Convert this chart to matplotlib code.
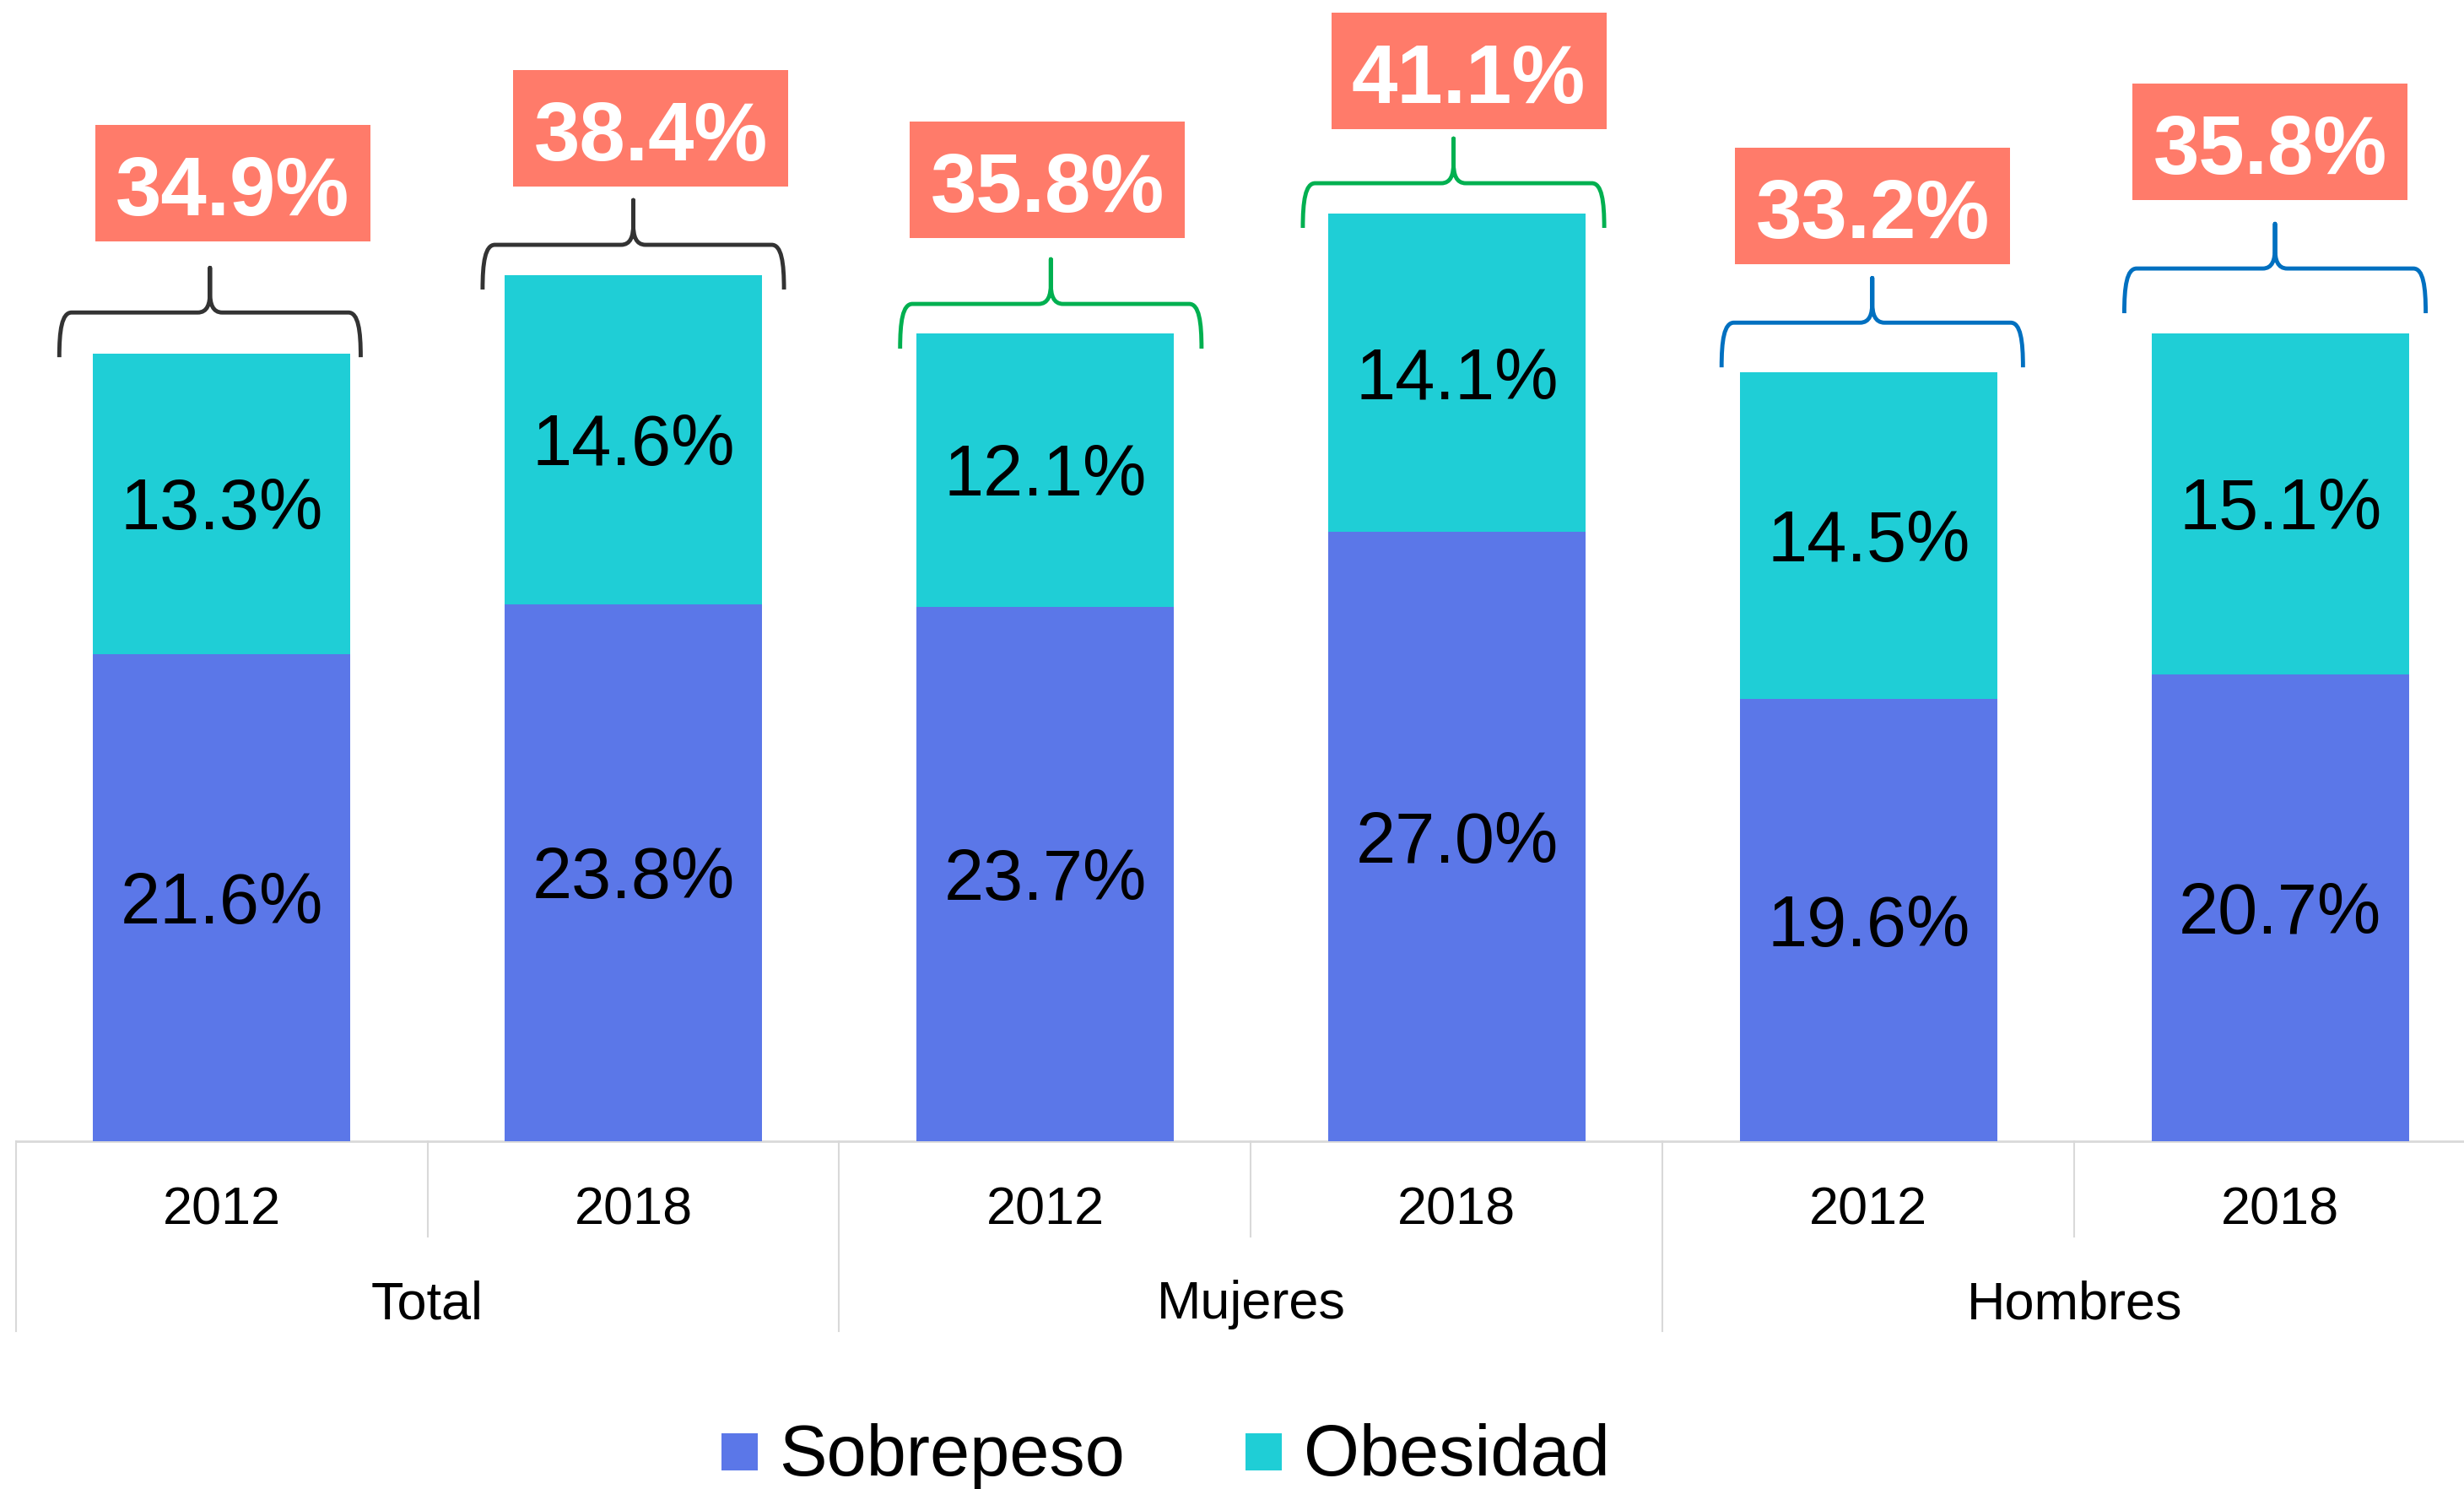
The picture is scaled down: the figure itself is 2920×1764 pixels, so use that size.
import matplotlib.pyplot as plt
from matplotlib.patches import Rectangle, PathPatch
from matplotlib.path import Path

plt.rcParams['font.family'] = ['Liberation Sans', 'DejaVu Sans']

# Prevalence of overweight and obesity by sex, 2012 vs 2018 (%)
years = ['2012', '2018', '2012', '2018', '2012', '2018']
groups = ['Total', 'Mujeres', 'Hombres']
sobrepeso = [21.6, 23.8, 23.7, 27.0, 19.6, 20.7]
obesidad = [13.3, 14.6, 12.1, 14.1, 14.5, 15.1]
combined = [34.9, 38.4, 35.8, 41.1, 33.2, 35.8]

c_sobre = '#5B77E8'
c_obes = '#1FCED6'
c_badge = '#FF7B6A'
brace_colors = ['#333333', '#333333', '#00B050', '#00B050', '#0070C0', '#0070C0']

# fine placement of the braces and badges above each bar
brace_lift = [-0.15, -0.65, -0.67, -0.62, 0.2, 0.9]
brace_dx = [-0.028, 0.0, 0.014, -0.008, 0.009, -0.013]
badge_gap = [1.17, 0.6, 0.94, 0.42, 0.6, 1.05]
badge_dx = [0.027, 0.043, 0.006, 0.029, 0.01, -0.025]

fig = plt.figure(figsize=(29.2, 17.64), dpi=100)
ax = fig.add_axes([0, 0, 1, 1])
ax.set_xlim(-0.538, 5.446)
ax.set_ylim(-15.41, 50.58)
ax.axis('off')

x = list(range(len(years)))
bw = 0.625
ax.bar(x, sobrepeso, bw, color=c_sobre, zorder=2)
ax.bar(x, obesidad, bw, bottom=sobrepeso, color=c_obes, zorder=2)

cap = 2.28  # digit height of the segment labels, in data units
for i in x:
    ax.text(i, sobrepeso[i] / 2 - cap / 2, f'{sobrepeso[i]:.1f}%',
            ha='center', va='baseline', fontsize=61, color='black', zorder=3)
    ax.text(i, sobrepeso[i] + obesidad[i] / 2 - cap / 2, f'{obesidad[i]:.1f}%',
            ha='center', va='baseline', fontsize=61, color='black', zorder=3)


def brace(cx, y0, color):
    hw, h, rx, tx = 0.366, 1.98, 0.03, 0.03
    L, R = cx - hw, cx + hw
    y1, y2 = y0 + h, y0 + 2 * h
    ym = y1 + 0.45 * h
    verts = [(L, y0),
             (L, y0 + 0.6 * h), (L + 0.2 * rx, y1), (L + rx, y1),
             (cx - tx, y1),
             (cx - 0.2 * tx, y1), (cx, y1 + 0.2 * h), (cx, ym),
             (cx, y2),
             (cx, ym),
             (cx, y1 + 0.2 * h), (cx + 0.2 * tx, y1), (cx + tx, y1),
             (R - rx, y1),
             (R - 0.2 * rx, y1), (R, y0 + 0.6 * h), (R, y0)]
    codes = [Path.MOVETO,
             Path.CURVE4, Path.CURVE4, Path.CURVE4,
             Path.LINETO,
             Path.CURVE4, Path.CURVE4, Path.CURVE4,
             Path.LINETO,
             Path.LINETO,
             Path.CURVE4, Path.CURVE4, Path.CURVE4,
             Path.LINETO,
             Path.CURVE4, Path.CURVE4, Path.CURVE4]
    ax.add_patch(PathPatch(Path(verts, codes), fill=False, edgecolor=color,
                           lw=3.5, capstyle='butt', joinstyle='round', zorder=3))
    return y2


badge_w, badge_h = 0.668, 5.16
for i in x:
    top = sobrepeso[i] + obesidad[i]
    tip = brace(i + brace_dx[i], top + brace_lift[i], brace_colors[i])
    bx = i + badge_dx[i]
    by = tip + badge_gap[i]
    ax.add_patch(Rectangle((bx - badge_w / 2, by), badge_w, badge_h,
                           facecolor=c_badge, edgecolor='none', zorder=3))
    ax.text(bx, by + 1.16, f'{combined[i]:.1f}%', ha='center', va='baseline',
            fontsize=70.5, fontweight='bold', color='white', zorder=4)

# category axis with two label rows
grid = '#D9D9D9'
ax.plot([-0.5, 5.6], [0, 0], color=grid, lw=2, zorder=1, clip_on=False)
for s in [-0.5, 1.5, 3.5, 5.5]:
    ax.plot([s, s], [0, -8.42], color=grid, lw=1.5, zorder=1)
for s in [0.5, 2.5, 4.5]:
    ax.plot([s, s], [0, -4.23], color=grid, lw=1.5, zorder=1)
for i in x:
    ax.text(i, -3.67, years[i], ha='center', va='baseline', fontsize=45.4)
for g, name in enumerate(groups):
    ax.text(2 * g + 0.5, -7.86, name, ha='center', va='baseline', fontsize=45.4)

# legend along the bottom edge
W, H = 2920, 1764
for sx, tx, label, col in [(855, 923, 'Sobrepeso', c_sobre),
                           (1476, 1545, 'Obesidad', c_obes)]:
    fig.patches.append(Rectangle((sx / W, (H - 1742) / H), 43 / W, 44 / H,
                                 facecolor=col, edgecolor='none',
                                 transform=fig.transFigure, figure=fig))
    fig.text(tx / W, (H - 1748) / H, label, ha='left', va='baseline',
             fontsize=61)

fig.savefig('out.png', dpi=100)
